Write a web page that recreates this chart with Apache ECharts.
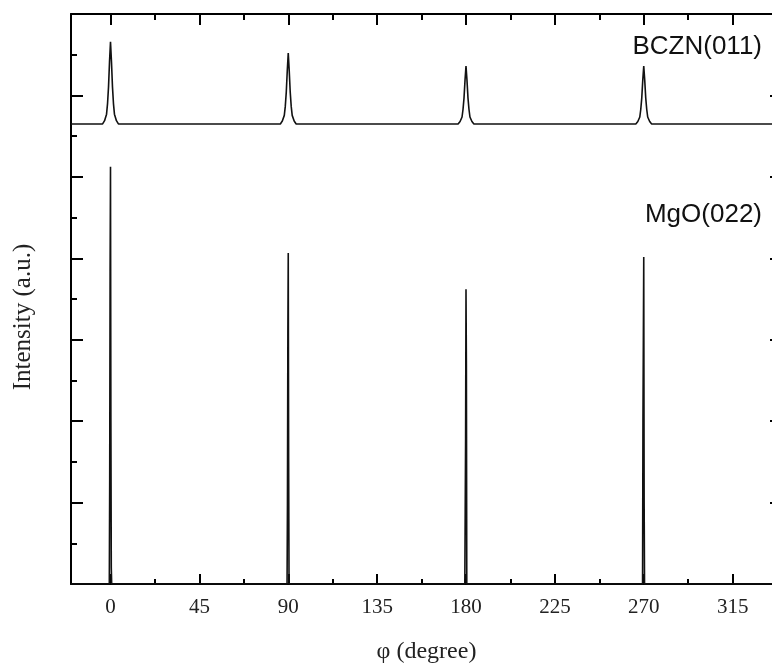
<!DOCTYPE html>
<html>
<head>
<meta charset="utf-8">
<script src="https://cdn.jsdelivr.net/npm/echarts@6/dist/echarts.min.js"></script>
<style>
html,body{margin:0;padding:0;background:#fff;overflow:hidden;}
#c{width:772px;height:666px;}
</style>
</head>
<body>
<div id="c"></div>
<script>
// ---- data ----
const xMajorTicks = [0, 45, 90, 135, 180, 225, 270, 315];
const xMinorTicks = [22.5, 67.5, 112.5, 157.5, 202.5, 247.5, 292.5, 337.5];

// BCZN(011) phi scan (vertically offset trace)
const bcznPhi = [-20, -4, -3, -2, -1.5, -1, -0.5, 0, 0.5, 1, 1.5, 2, 3, 4,
  86, 87, 88, 88.5, 89, 89.5, 90, 90.5, 91, 91.5, 92, 93, 94,
  176, 177, 178, 178.5, 179, 179.5, 180, 180.5, 181, 181.5, 182, 183, 184,
  266, 267, 268, 268.5, 269, 269.5, 270, 270.5, 271, 271.5, 272, 273, 274, 340];
const bcznInt = [11.30, 11.30, 11.38, 11.54, 11.80, 12.21, 12.82, 13.32, 12.82, 12.21, 11.80, 11.54, 11.38, 11.30,
  11.30, 11.37, 11.51, 11.73, 12.08, 12.60, 13.04, 12.60, 12.08, 11.73, 11.51, 11.37, 11.30,
  11.30, 11.36, 11.47, 11.66, 11.94, 12.37, 12.72, 12.37, 11.94, 11.66, 11.47, 11.36, 11.30,
  11.30, 11.36, 11.47, 11.66, 11.94, 12.37, 12.72, 12.37, 11.94, 11.66, 11.47, 11.36, 11.30, 11.30];

// MgO(022) phi scan
const mgoPhi = [-20, -0.6, -0.4, -0.2, 0, 0.2, 0.4, 0.6,
  89.4, 89.6, 89.8, 90, 90.2, 90.4,
  179.4, 179.6, 179.8, 180, 180.2, 180.4,
  269.4, 269.6, 269.8, 270, 270.2, 270.4, 340];
const mgoInt = [0, 0, 2.6, 7.7, 10.25, 4.0, 0.4, 0,
  0, 2.0, 6.1, 8.13, 3.0, 0,
  0, 1.8, 3.6, 7.24, 5.4, 0,
  0, 4.0, 6.0, 8.03, 2.0, 0, 0];

// ---- chart ----
const pairs = (xs, ys) => xs.map((x, i) => [x, ys[i]]);
const chart = echarts.init(document.getElementById('c'), null, {renderer: 'canvas'});
const serif = '"Liberation Serif", "Times New Roman", serif';
const sans = '"Liberation Sans", Arial, sans-serif';
const black = '#000';
const axisCommon = {type: 'value', min: -20, max: 340, splitLine: {show: false}};

chart.setOption({
  animation: false,
  backgroundColor: '#fff',
  grid: {left: 71, width: 711, top: 14, bottom: 82, containLabel: false, outerBoundsMode: 'none'},
  xAxis: [
    Object.assign({}, axisCommon, {
      position: 'bottom',
      axisLine: {show: true, onZero: false, lineStyle: {color: black, width: 2}},
      axisTick: {show: true, inside: true, length: 10, customValues: xMajorTicks, lineStyle: {color: black, width: 2}},
      axisLabel: {show: true, customValues: xMajorTicks, margin: 13, fontFamily: serif, fontSize: 21, color: '#222'},
      name: 'φ (degree)', nameLocation: 'middle', nameGap: 56,
      nameTextStyle: {fontFamily: serif, fontSize: 24, color: '#222'}
    }),
    Object.assign({}, axisCommon, {
      position: 'bottom',
      axisLine: {show: false, onZero: false},
      axisTick: {show: true, inside: true, length: 5, customValues: xMinorTicks, lineStyle: {color: black, width: 2}},
      axisLabel: {show: false}
    }),
    Object.assign({}, axisCommon, {
      position: 'top',
      axisLine: {show: true, onZero: false, lineStyle: {color: black, width: 2}},
      axisTick: {show: true, inside: true, length: 11, customValues: xMajorTicks, lineStyle: {color: black, width: 2}},
      axisLabel: {show: false}
    }),
    Object.assign({}, axisCommon, {
      position: 'top',
      axisLine: {show: false, onZero: false},
      axisTick: {show: true, inside: true, length: 6, customValues: xMinorTicks, lineStyle: {color: black, width: 2}},
      axisLabel: {show: false}
    })
  ],
  yAxis: [
    {type: 'value', position: 'left', min: 0, max: 14, interval: 2,
      axisLine: {show: true, onZero: false, lineStyle: {color: black, width: 2}},
      axisTick: {show: true, inside: true, length: 12, lineStyle: {color: black, width: 2}},
      minorTick: {show: true, splitNumber: 2, length: 6, lineStyle: {color: black, width: 2}},
      axisLabel: {show: false}, splitLine: {show: false}, minorSplitLine: {show: false}},
    {type: 'value', position: 'right', min: 0, max: 14, interval: 2,
      axisLine: {show: true, onZero: false, lineStyle: {color: black, width: 2}},
      axisTick: {show: true, inside: true, length: 12, lineStyle: {color: black, width: 2}},
      minorTick: {show: true, splitNumber: 2, length: 6, lineStyle: {color: black, width: 2}},
      axisLabel: {show: false}, splitLine: {show: false}, minorSplitLine: {show: false}}
  ],
  series: [
    {name: 'BCZN(011)', type: 'line', xAxisIndex: 0, yAxisIndex: 0, showSymbol: false, symbol: 'none',
      lineStyle: {color: '#111', width: 1.6}, data: pairs(bcznPhi, bcznInt)},
    {name: 'MgO(022)', type: 'line', xAxisIndex: 0, yAxisIndex: 0, showSymbol: false, symbol: 'none',
      lineStyle: {color: '#111', width: 1.6}, data: pairs(mgoPhi, mgoInt)}
  ],
  graphic: [
    {type: 'text', x: 23, y: 317, rotation: Math.PI / 2,
      style: {text: 'Intensity (a.u.)', font: '25px ' + serif, fill: '#222', align: 'center', verticalAlign: 'middle'}},
    {type: 'text', x: 762, y: 47,
      style: {text: 'BCZN(011)', font: '26px ' + sans, fill: '#111', align: 'right', verticalAlign: 'middle'}},
    {type: 'text', x: 762, y: 215,
      style: {text: 'MgO(022)', font: '26px ' + sans, fill: '#111', align: 'right', verticalAlign: 'middle'}}
  ]
});
</script>
</body>
</html>
